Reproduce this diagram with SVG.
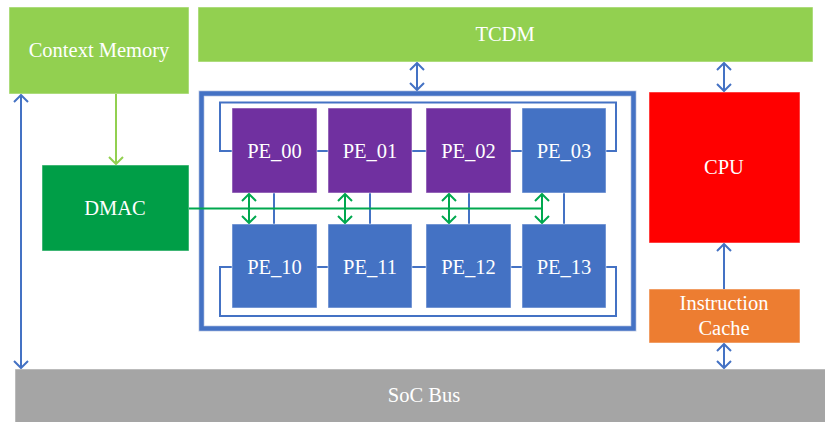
<svg xmlns="http://www.w3.org/2000/svg" width="825" height="422" viewBox="0 0 825 422">
  <defs>
    <style>
      .lbl { font-family: "Liberation Serif", "Times New Roman", serif; font-size: 20.5px; fill: #ffffff; text-anchor: middle; }
      .box { stroke: #ffffff; stroke-opacity: 0.5; stroke-width: 1; }
      .blue-ln { stroke: #4472C4; stroke-width: 2; fill: none; }
      .green-ln { stroke: #00A84F; stroke-width: 2; fill: none; }
      .lgreen-ln { stroke: #92D050; stroke-width: 2; fill: none; }
    </style>
    <marker id="arrBlue" viewBox="0 0 14 16" refX="13" refY="8" markerWidth="14" markerHeight="16" markerUnits="userSpaceOnUse" orient="auto-start-reverse">
      <path d="M6,1 L13,8 L6,15" fill="none" stroke="#4472C4" stroke-width="2"/>
    </marker>
    <marker id="arrGreen" viewBox="0 0 14 16" refX="13" refY="8" markerWidth="14" markerHeight="16" markerUnits="userSpaceOnUse" orient="auto-start-reverse">
      <path d="M6,1 L13,8 L6,15" fill="none" stroke="#00A84F" stroke-width="2"/>
    </marker>
    <marker id="arrLGreen" viewBox="0 0 14 16" refX="13" refY="8" markerWidth="14" markerHeight="16" markerUnits="userSpaceOnUse" orient="auto-start-reverse">
      <path d="M6,1 L13,8 L6,15" fill="none" stroke="#92D050" stroke-width="2"/>
    </marker>
  </defs>

  <rect width="825" height="422" fill="#ffffff"/>

  <!-- memories and controllers -->
  <g id="context-memory">
    <rect class="box" x="9" y="7" width="180" height="87" fill="#92D050"/>
    <text class="lbl" x="99" y="57">Context Memory</text>
  </g>
  <g id="tcdm">
    <rect class="box" x="198" y="7" width="615" height="55" fill="#92D050"/>
    <text class="lbl" x="505" y="41">TCDM</text>
  </g>
  <g id="dmac">
    <rect class="box" x="42" y="165" width="147" height="86" fill="#009E47"/>
    <text class="lbl" x="115" y="215">DMAC</text>
  </g>
  <g id="cpu">
    <rect class="box" x="649" y="92" width="151" height="151" fill="#FF0000"/>
    <text class="lbl" x="724" y="174">CPU</text>
  </g>
  <g id="icache">
    <rect class="box" x="649" y="289" width="151" height="54" fill="#ED7D31"/>
    <text class="lbl" x="724" y="310">Instruction</text>
    <text class="lbl" x="724" y="335">Cache</text>
  </g>
  <g id="soc-bus">
    <rect class="box" x="15" y="369" width="815" height="60" fill="#A5A5A5"/>
    <text class="lbl" x="424" y="402">SoC Bus</text>
  </g>

  <!-- PE array frame -->
  <g id="pe-array">
    <rect x="201.5" y="93.5" width="432" height="235" fill="none" stroke="#C9D3E8" stroke-width="6"/>
    <rect x="201.5" y="93.5" width="432" height="235" fill="none" stroke="#4472C4" stroke-width="4.5"/>
    <!-- ring links -->
    <path class="blue-ln" d="M232,151 H220 V102.5 H616 V151 H606"/>
    <path class="blue-ln" d="M232,267 H220 V316 H616 V267 H606"/>
    <path class="blue-ln" d="M317,151 H328 M412,151 H426 M511,151 H522"/>
    <path class="blue-ln" d="M317,267 H328 M412,267 H426 M511,267 H522"/>
    <path class="blue-ln" d="M274,193 V224 M370,193 V224 M469,193 V224 M564,193 V224"/>
  </g>

  <g id="pe-00">
    <rect class="box" x="232" y="108" width="85" height="85" fill="#7030A0"/>
    <text class="lbl" x="274.5" y="158">PE_00</text>
  </g>
  <g id="pe-01">
    <rect class="box" x="328" y="108" width="84" height="85" fill="#7030A0"/>
    <text class="lbl" x="370" y="158">PE_01</text>
  </g>
  <g id="pe-02">
    <rect class="box" x="426" y="108" width="85" height="85" fill="#7030A0"/>
    <text class="lbl" x="468.5" y="158">PE_02</text>
  </g>
  <g id="pe-03">
    <rect class="box" x="522" y="108" width="84" height="85" fill="#4472C4"/>
    <text class="lbl" x="564" y="158">PE_03</text>
  </g>
  <g id="pe-10">
    <rect class="box" x="232" y="224" width="85" height="84" fill="#4472C4"/>
    <text class="lbl" x="274.5" y="274">PE_10</text>
  </g>
  <g id="pe-11">
    <rect class="box" x="328" y="224" width="84" height="84" fill="#4472C4"/>
    <text class="lbl" x="370" y="274">PE_11</text>
  </g>
  <g id="pe-12">
    <rect class="box" x="426" y="224" width="85" height="84" fill="#4472C4"/>
    <text class="lbl" x="468.5" y="274">PE_12</text>
  </g>
  <g id="pe-13">
    <rect class="box" x="522" y="224" width="84" height="84" fill="#4472C4"/>
    <text class="lbl" x="564" y="274">PE_13</text>
  </g>

  <!-- connectors -->
  <g id="connectors">
    <line class="lgreen-ln" x1="116" y1="94" x2="116" y2="164" marker-end="url(#arrLGreen)"/>
    <line class="green-ln" x1="189" y1="208.5" x2="542" y2="208.5"/>
    <line class="green-ln" x1="249" y1="194" x2="249" y2="223" marker-start="url(#arrGreen)" marker-end="url(#arrGreen)"/>
    <line class="green-ln" x1="345" y1="194" x2="345" y2="223" marker-start="url(#arrGreen)" marker-end="url(#arrGreen)"/>
    <line class="green-ln" x1="449" y1="194" x2="449" y2="223" marker-start="url(#arrGreen)" marker-end="url(#arrGreen)"/>
    <line class="green-ln" x1="542" y1="194" x2="542" y2="223" marker-start="url(#arrGreen)" marker-end="url(#arrGreen)"/>
    <line class="blue-ln" x1="21" y1="95" x2="21" y2="368" marker-start="url(#arrBlue)" marker-end="url(#arrBlue)"/>
    <line class="blue-ln" x1="417" y1="63" x2="417" y2="90" marker-start="url(#arrBlue)" marker-end="url(#arrBlue)"/>
    <line class="blue-ln" x1="724" y1="63" x2="724" y2="91" marker-start="url(#arrBlue)" marker-end="url(#arrBlue)"/>
    <line class="blue-ln" x1="724" y1="289" x2="724" y2="244" marker-end="url(#arrBlue)"/>
    <line class="blue-ln" x1="724" y1="344" x2="724" y2="368" marker-start="url(#arrBlue)" marker-end="url(#arrBlue)"/>
  </g>
</svg>
